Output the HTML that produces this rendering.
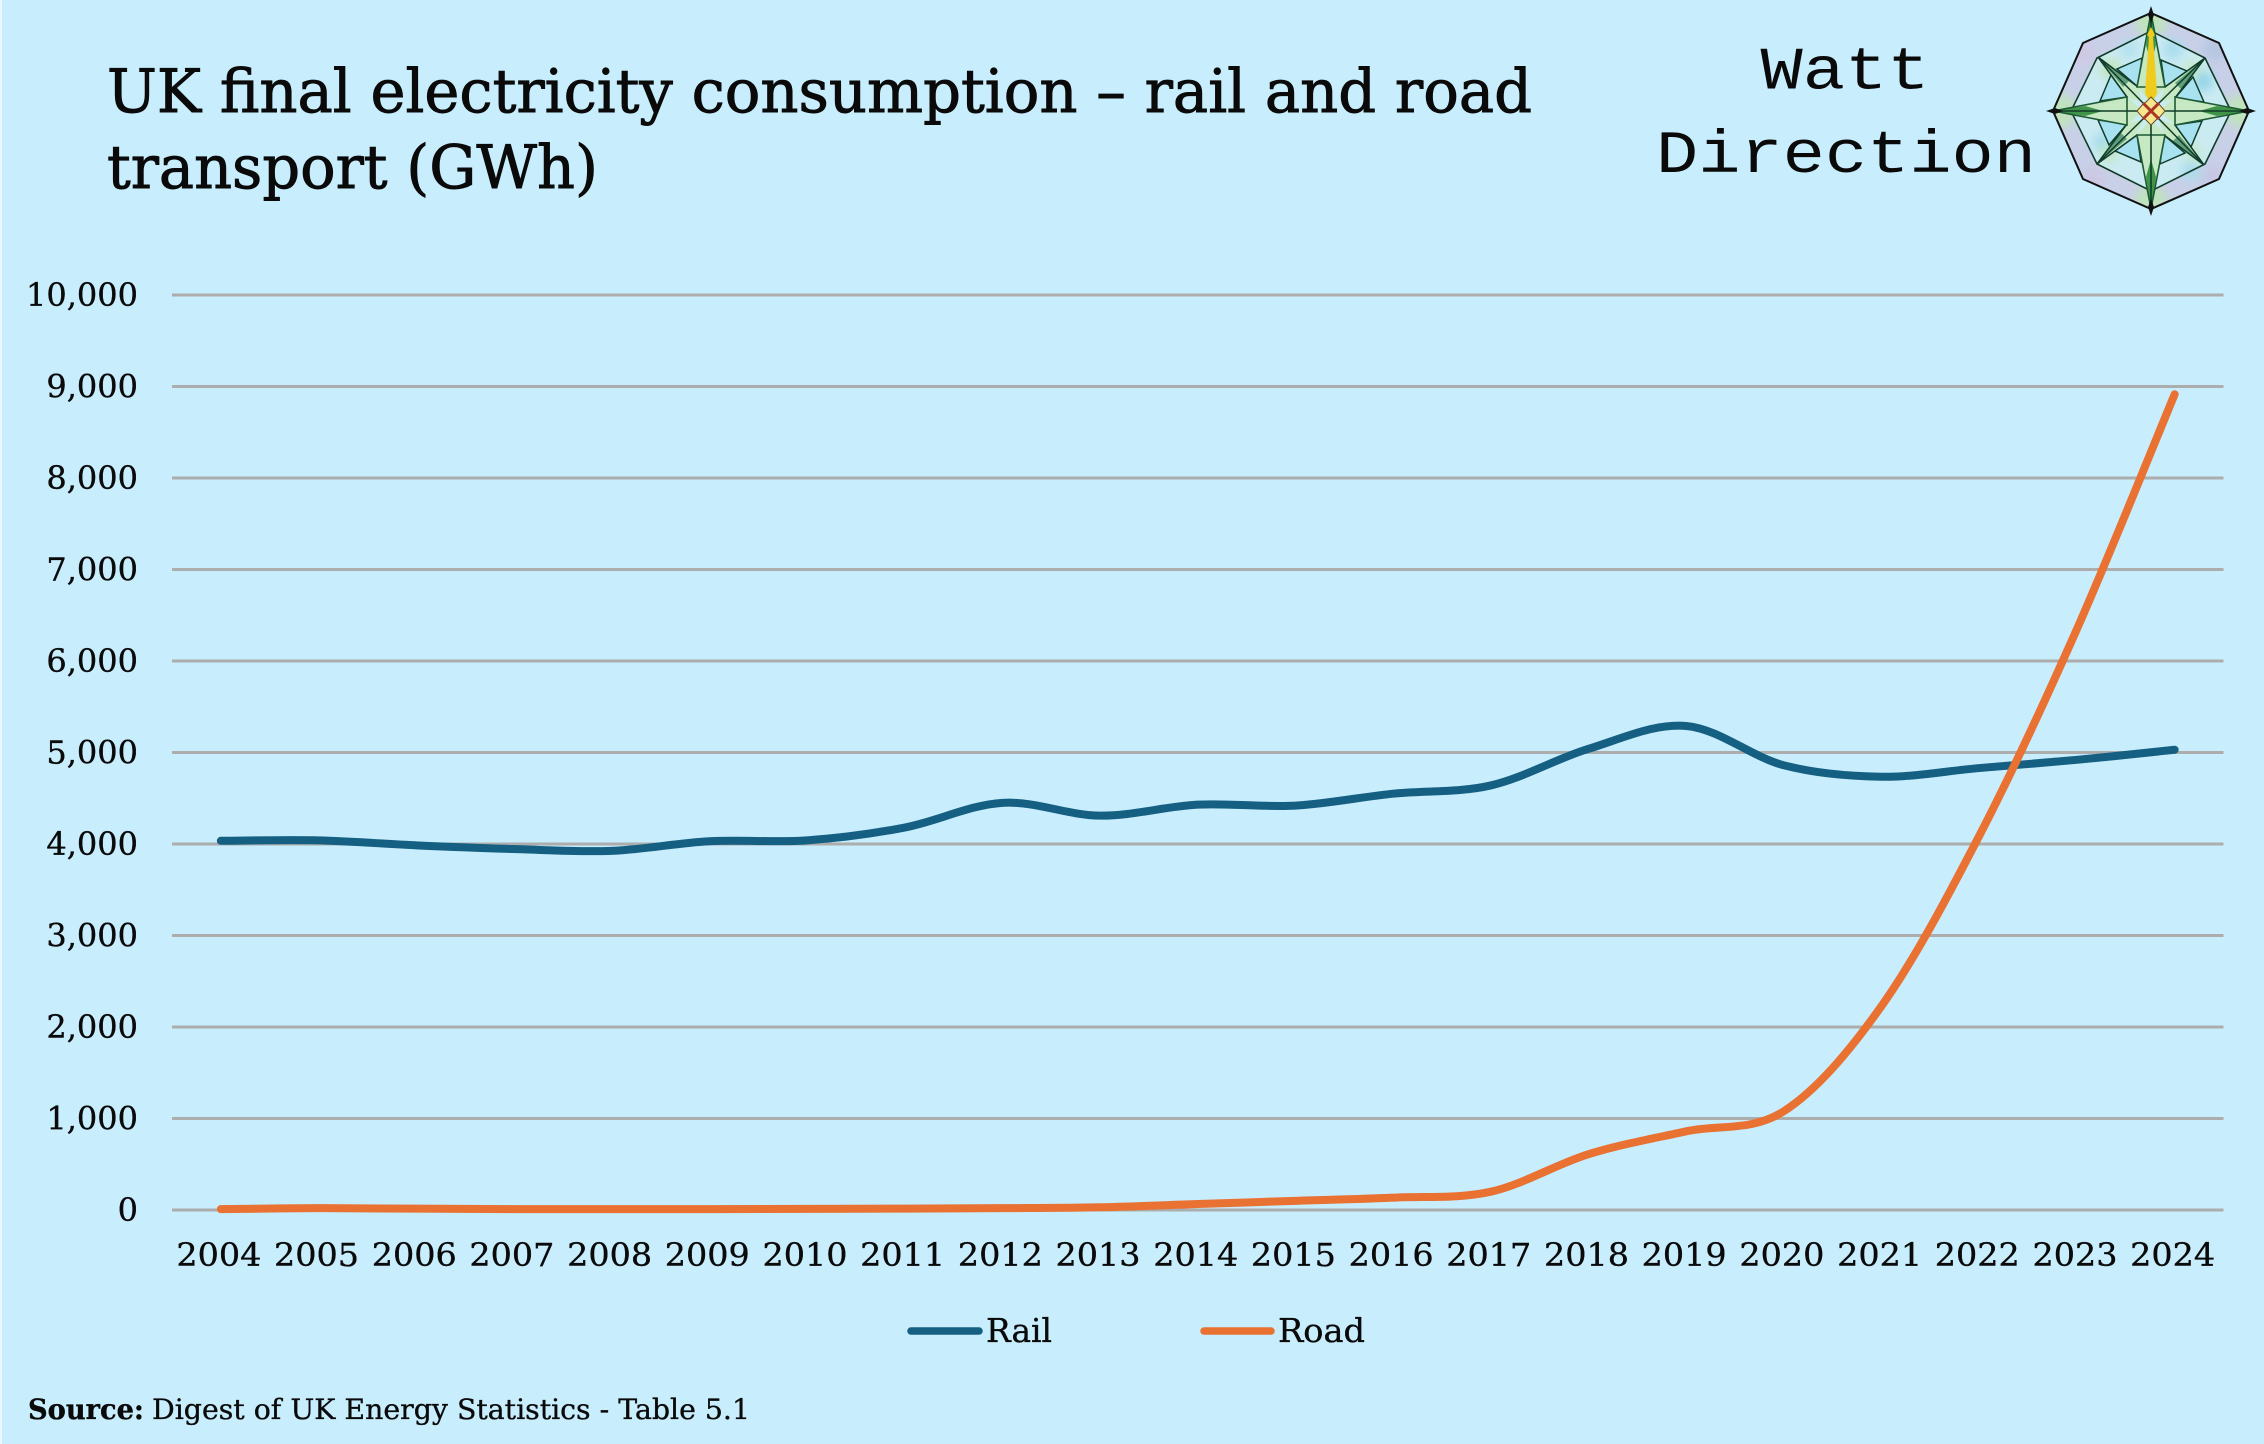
<!DOCTYPE html>
<html lang="en">
<head>
<meta charset="utf-8">
<title>UK final electricity consumption - rail and road transport (GWh)</title>
<style>
html,body{margin:0;padding:0;background:#C8EDFD;}
svg{display:block;}
text{fill:#0a0a0a;}
.serif{font-family:"DejaVu Serif","Liberation Serif",serif;stroke:#0a0a0a;stroke-width:.35px;}
.title{stroke-width:.9px;}
.tick{font-size:32px;}
</style>
</head>
<body>
<svg id="chart" xmlns="http://www.w3.org/2000/svg" width="2264" height="1444" viewBox="0 0 2264 1444">
  <defs>
    <filter id="soft" x="-30%" y="-30%" width="160%" height="160%"><feGaussianBlur stdDeviation="5"/></filter>
    <clipPath id="outer-clip"><polygon points="0,-98 68,-68 98,0 68,68 0,98 -68,68 -98,0 -68,-68"/></clipPath>
    <g id="main-spike">
      <polygon points="0,-98 14,-24 0,-8 -14,-24" fill="#C6E8C2"/>
      <polygon points="0,-98 5,-66 0,-48 -5,-66" fill="#3F9448"/>
      <polygon points="0,-98 14,-24 -14,-24" fill="none" stroke="#1d5a34" stroke-width="1.6"/>
    </g>
    <g id="diag-spike">
      <polygon points="54,-53 24,-13 8,-8 14,-24" fill="#C6E8C2"/>
      <polygon points="54,-53 30,-22 24,-28" fill="#5F9F7C"/>
      <polyline points="14,-24 54,-53 24,-13" fill="none" stroke="#123c2a" stroke-width="1.5"/>
      <line x1="54" y1="-53" x2="8" y2="-8" stroke="#123c2a" stroke-width="1.5"/>
    </g>
    <g id="kite">
      <polygon points="10,-51 36,-40 14,-24" fill="#A8E2F0" stroke="#123c2a" stroke-width="1.5"/>
      <polygon points="53,-9 42,-34 24,-13" fill="#A8E2F0" stroke="#123c2a" stroke-width="1.5"/>
    </g>
  </defs>

  <rect x="0" y="0" width="2264" height="1444" fill="#C8EDFD"/>
  <rect x="0" y="0" width="2" height="1444" fill="#EAF8FE"/>

  <text class="serif title" x="107" y="112" font-size="60" textLength="1425" lengthAdjust="spacingAndGlyphs">UK final electricity consumption – rail and road</text>
  <text class="serif title" x="107" y="188" font-size="60" textLength="491" lengthAdjust="spacingAndGlyphs">transport (GWh)</text>

  <text font-family="'Liberation Mono',monospace" x="1845" y="88.5" font-size="60" text-anchor="middle" textLength="169" lengthAdjust="spacingAndGlyphs">Watt</text>
  <text font-family="'Liberation Mono',monospace" x="1846" y="172" font-size="60" text-anchor="middle" textLength="380" lengthAdjust="spacingAndGlyphs">Direction</text>

  <g transform="translate(2151 111)">
    <polygon points="0,-98 68,-68 98,0 68,68 0,98 -68,68 -98,0 -68,-68" fill="#C8D0E8"/>
    <g clip-path="url(#outer-clip)">
      <g filter="url(#soft)">
        <circle cx="0" cy="-90" r="16" fill="#BFE3BC"/>
        <circle cx="0" cy="90" r="16" fill="#BFE3BC"/>
        <circle cx="90" cy="0" r="16" fill="#BFE3BC"/>
        <circle cx="-90" cy="0" r="16" fill="#BFE3BC"/>
        <circle cx="-68" cy="-58" r="12" fill="#CFC9E4"/>
        <circle cx="64" cy="-62" r="12" fill="#B6C6E2"/>
        <circle cx="62" cy="66" r="12" fill="#C6C8E4"/>
        <circle cx="-58" cy="68" r="12" fill="#CCC8E4"/>
      </g>
    </g>
    <polygon points="0,-80 54,-53 80,0 54,53 0,80 -54,53 -80,0 -54,-53" fill="#CBEBF3"/>
    <g clip-path="url(#outer-clip)">
      <g filter="url(#soft)">
        <circle cx="52" cy="-30" r="10" fill="#93D3E8"/>
        <circle cx="22" cy="-62" r="10" fill="#A9DCEC"/>
        <circle cx="-22" cy="-62" r="9" fill="#B2E0EE"/>
        <circle cx="-48" cy="32" r="10" fill="#A6DBEC"/>
        <circle cx="40" cy="60" r="10" fill="#ACDCEC"/>
        <circle cx="-40" cy="-42" r="11" fill="#C0E6BE"/>
        <circle cx="-42" cy="42" r="9" fill="#C0E6BE"/>
        <circle cx="42" cy="-42" r="9" fill="#C4E8C8"/>
        <circle cx="42" cy="42" r="9" fill="#C4E8C8"/>
      </g>
    </g>
    <polygon points="0,-80 54,-53 80,0 54,53 0,80 -54,53 -80,0 -54,-53" fill="none" stroke="#123c2a" stroke-width="1.6"/>
    <use href="#kite"/><use href="#kite" transform="rotate(90)"/><use href="#kite" transform="rotate(180)"/><use href="#kite" transform="rotate(270)"/>
    <use href="#diag-spike"/><use href="#diag-spike" transform="rotate(90)"/><use href="#diag-spike" transform="rotate(180)"/><use href="#diag-spike" transform="rotate(270)"/>
    <use href="#main-spike"/><use href="#main-spike" transform="rotate(90)"/><use href="#main-spike" transform="rotate(180)"/><use href="#main-spike" transform="rotate(270)"/>
    <line x1="-98" y1="0" x2="98" y2="0" stroke="#123c2a" stroke-width="1.6"/>
    <line x1="0" y1="-98" x2="0" y2="98" stroke="#123c2a" stroke-width="1.6"/>
    <polygon points="0,-98 68,-68 98,0 68,68 0,98 -68,68 -98,0 -68,-68" fill="none" stroke="#111" stroke-width="2"/>
    <polygon points="0,-105 3,-96 0,-88 -3,-96" fill="#111"/>
    <polygon points="0,105 3,96 0,88 -3,96" fill="#111"/>
    <polygon points="105,0 96,3 88,0 96,-3" fill="#111"/>
    <polygon points="-105,0 -96,3 -88,0 -96,-3" fill="#111"/>
    <polygon points="0,-84 4,-76 2,-74 6,-18 0,-6 -6,-18 -2,-74 -4,-76" fill="#EFCB1E"/>
    <g stroke="#6b5020" stroke-width="1">
      <polygon points="-14,0 -7,-8 0,0 -7,8" fill="#F8E68C"/>
      <polygon points="14,0 7,-8 0,0 7,8" fill="#F8E68C"/>
      <polygon points="0,14 -7,7 0,0 7,7" fill="#F8E68C"/>
      <polygon points="0,-14 -7,-7 0,0 7,-7" fill="#F8E68C"/>
    </g>
    <g stroke="#A8342A" stroke-width="3">
      <line x1="-8" y1="-8" x2="8" y2="8"/><line x1="8" y1="-8" x2="-8" y2="8"/>
    </g>
  </g>

  <g id="grid"></g>
  <g id="y-axis"></g>
  <g id="x-axis"></g>
  <g id="series"></g>

  <g>
    <g>
      <line x1="911" y1="1331" x2="979" y2="1331" stroke="#156082" stroke-width="7.5" stroke-linecap="round"/>
      <text class="serif" x="986" y="1342" font-size="33" textLength="66" lengthAdjust="spacingAndGlyphs">Rail</text>
    </g>
    <g>
      <line x1="1204" y1="1331" x2="1271" y2="1331" stroke="#E97132" stroke-width="7.5" stroke-linecap="round"/>
      <text class="serif" x="1278" y="1342" font-size="33" textLength="87" lengthAdjust="spacingAndGlyphs">Road</text>
    </g>
  </g>

  <text class="serif" x="28" y="1419" font-size="28" font-weight="700" textLength="116" lengthAdjust="spacingAndGlyphs">Source:</text>
  <text class="serif" x="152" y="1419" font-size="28" textLength="598" lengthAdjust="spacingAndGlyphs">Digest of UK Energy Statistics - Table 5.1</text>
</svg>

<script>
const years = ["2004","2005","2006","2007","2008","2009","2010","2011","2012","2013","2014","2015","2016","2017","2018","2019","2020","2021","2022","2023","2024"];
const railValues = [4035,4040,3985,3945,3925,4030,4040,4180,4450,4310,4430,4420,4550,4640,5040,5290,4860,4735,4830,4920,5030];
const roadValues = [10,20,15,10,10,10,12,15,20,30,65,100,135,200,610,860,1080,2230,4090,6350,8915];
const yTicks = [0,1000,2000,3000,4000,5000,6000,7000,8000,9000,10000];
const yTickLabels = ["0","1,000","2,000","3,000","4,000","5,000","6,000","7,000","8,000","9,000","10,000"];

const SVG_NS = "http://www.w3.org/2000/svg";
const plotLeft = 172, plotRight = 2223.5, plotTop = 295, plotBottom = 1210, yMax = 10000;

function xScale(i) {
  const band = (plotRight - plotLeft) / years.length;
  return plotLeft + band * (i + 0.5);
}
function yScale(v) {
  return plotBottom - (v / yMax) * (plotBottom - plotTop);
}
function smoothPath(values) {
  const p = values.map(function (v, i) { return [xScale(i), yScale(v)]; });
  let d = "M" + p[0][0].toFixed(2) + " " + p[0][1].toFixed(2);
  for (let i = 0; i < p.length - 1; i++) {
    const a = p[Math.max(0, i - 1)], b = p[i], c = p[i + 1], e = p[Math.min(p.length - 1, i + 2)];
    const c1x = b[0] + (c[0] - a[0]) / 6, c1y = b[1] + (c[1] - a[1]) / 6;
    const c2x = c[0] - (e[0] - b[0]) / 6, c2y = c[1] - (e[1] - b[1]) / 6;
    d += "C" + c1x.toFixed(2) + " " + c1y.toFixed(2) + " " + c2x.toFixed(2) + " " + c2y.toFixed(2) + " " + c[0].toFixed(2) + " " + c[1].toFixed(2);
  }
  return d;
}

const gridGroup = document.getElementById("grid");
const yAxisGroup = document.getElementById("y-axis");
const xAxisGroup = document.getElementById("x-axis");
const seriesGroup = document.getElementById("series");

yTicks.forEach(function (tick, i) {
  const line = document.createElementNS(SVG_NS, "line");
  
  
  line.setAttribute("x1", plotLeft);
  line.setAttribute("x2", plotRight);
  line.setAttribute("y1", yScale(tick));
  line.setAttribute("y2", yScale(tick));
  line.setAttribute("stroke", "#ADADAD");
  line.setAttribute("stroke-width", "3");
  gridGroup.appendChild(line);

  const label = document.createElementNS(SVG_NS, "text");
  
  
  label.setAttribute("class", "serif tick");
  label.setAttribute("x", 138);
  label.setAttribute("y", yScale(tick) + 11);
  label.setAttribute("text-anchor", "end");
  label.textContent = yTickLabels[i];
  yAxisGroup.appendChild(label);
});

years.forEach(function (year, i) {
  const label = document.createElementNS(SVG_NS, "text");
  
  
  label.setAttribute("class", "serif tick");
  label.setAttribute("x", xScale(i) - 2);
  label.setAttribute("y", 1266);
  label.setAttribute("text-anchor", "middle");
  label.setAttribute("textLength", "85");
  label.setAttribute("lengthAdjust", "spacingAndGlyphs");
  label.textContent = year;
  xAxisGroup.appendChild(label);
});

const railLine = document.createElementNS(SVG_NS, "path");


railLine.setAttribute("d", smoothPath(railValues));
railLine.setAttribute("fill", "none");
railLine.setAttribute("stroke", "#156082");
railLine.setAttribute("stroke-width", "8");
railLine.setAttribute("stroke-linecap", "round");
seriesGroup.appendChild(railLine);

const roadLine = document.createElementNS(SVG_NS, "path");


roadLine.setAttribute("d", smoothPath(roadValues));
roadLine.setAttribute("fill", "none");
roadLine.setAttribute("stroke", "#E97132");
roadLine.setAttribute("stroke-width", "8");
roadLine.setAttribute("stroke-linecap", "round");
seriesGroup.appendChild(roadLine);
</script>
</body>
</html>
